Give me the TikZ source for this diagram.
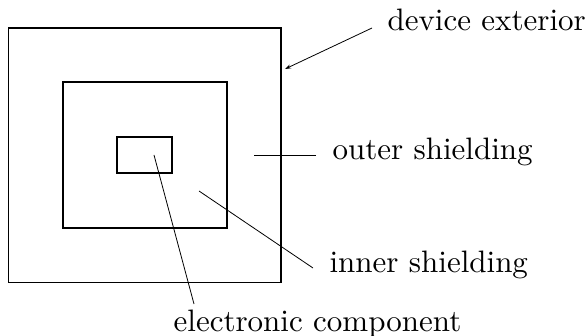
\documentclass[tikz,border=0pt]{standalone}
\usetikzlibrary{arrows.meta}
\begin{document}
\begin{tikzpicture}[x=1pt,y=-1pt,
  box/.style={draw,line width=1.3pt},
  leader/.style={line width=0.8pt},
  lbl/.style={anchor=base west,inner sep=0pt,scale=3.1,font=\fontsize{10}{12}\selectfont}]
\useasboundingbox (0,0) rectangle (586,336);
\draw[box] (8.5,28) rectangle (281,282.5);
\draw[box] (63,82) rectangle (227,228);
\draw[box] (117,137) rectangle (172,173);
\node[lbl] (dev) at (387,31) {device exterior};
\node[lbl] (out) at (332,160) {outer shielding};
\node[lbl] (inn) at (329,273) {inner shielding};
\node[lbl] (ele) at (173,331) {electronic component};
\coordinate (devS) at (372,28);
\coordinate (devE) at (285,69);
\coordinate (outS) at (316,155);
\coordinate (outE) at (254,155);
\coordinate (innS) at (313,268);
\coordinate (innE) at (199,191);
\coordinate (eleS) at (194,304);
\coordinate (eleE) at (154,155);
\draw[leader,-{Stealth[length=6pt,width=4pt]}] (devS) -- (devE);
\draw[leader] (outS) -- (outE);
\draw[leader] (innS) -- (innE);
\draw[leader] (eleS) -- (eleE);
\end{tikzpicture}
\end{document}
